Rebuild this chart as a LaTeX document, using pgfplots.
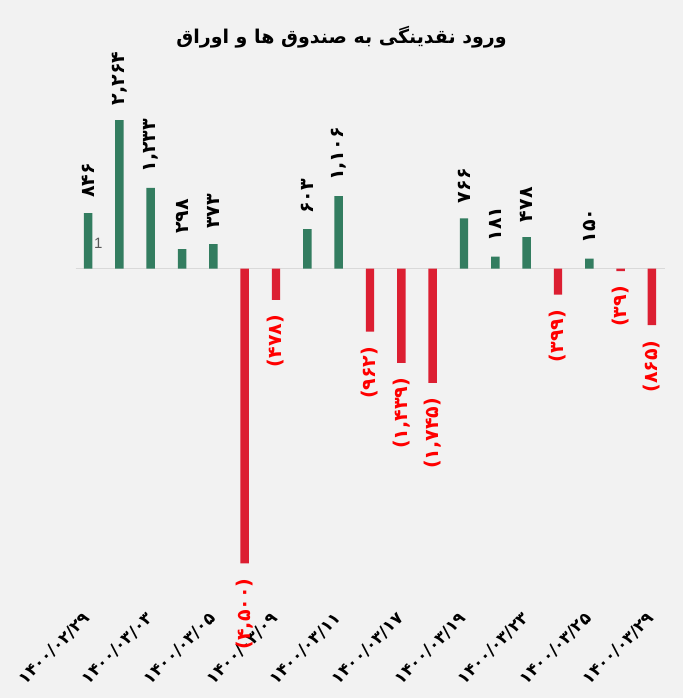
\documentclass[border=0pt]{standalone}
\usepackage{fontspec}
\usepackage{pgfplots}
\pgfplotsset{compat=1.18}
\usepackage{pgfplotstable}
\TeXXeTstate=1
\setmainfont{Liberation Sans}
\newfontfamily\arabicfont[Script=Arabic]{DejaVu Sans}
\definecolor{bg}{HTML}{F2F2F2}
\definecolor{posc}{HTML}{337D60}
\definecolor{negc}{HTML}{DC1F32}
\definecolor{zeroc}{HTML}{D9D9D9}

\pgfplotstableread{
x y label
1 846 ۸۴۶
2 2264 ۲,۲۶۴
3 1233 ۱,۲۳۳
4 298 ۲۹۸
5 373 ۳۷۳
8 603 ۶۰۳
9 1106 ۱,۱۰۶
13 766 ۷۶۶
14 181 ۱۸۱
15 478 ۴۷۸
17 150 ۱۵۰
}\postable

\pgfplotstableread{
x y label
6 -4500 (۴,۵۰۰)
7 -478 (۴۷۸)
10 -962 (۹۶۲)
11 -1439 (۱,۴۳۹)
12 -1745 (۱,۷۴۵)
16 -399 (۳۹۹)
18 -39 (۳۹)
19 -865 (۸۶۵)
}\negtable

\begin{document}
\begin{tikzpicture}
\fill[bg] (0,0) rectangle (683pt,698pt);
\node at (341.5pt,661pt) {\arabicfont\bfseries\fontsize{19}{19}\selectfont\beginR ورود نقدینگی به صندوق ها و اوراق\endR};
\begin{axis}[
  at={(75.5pt,93pt)}, anchor=south west,
  scale only axis, width=589pt, height=550pt,
  xmin=0.6, xmax=19.4, ymin=-5137, ymax=3260,
  axis line style={draw=none},
  tick style={draw=none},
  ybar, bar width=0.27, bar shift=0pt,
  xtick={1,3,5,7,9,11,13,15,17,19},
  xticklabels={۱۴۰۰/۰۲/۲۹,۱۴۰۰/۰۳/۰۳,۱۴۰۰/۰۳/۰۵,۱۴۰۰/۰۳/۰۹,۱۴۰۰/۰۳/۱۱,۱۴۰۰/۰۳/۱۷,۱۴۰۰/۰۳/۱۹,۱۴۰۰/۰۳/۲۳,۱۴۰۰/۰۳/۲۵,۱۴۰۰/۰۳/۲۹},
  xticklabel shift=10pt,
  xticklabel style={rotate=45, anchor=east, inner sep=1pt, font=\arabicfont\bfseries\fontsize{16.5}{16.5}\selectfont, text=black},
  ytick=\empty,
  major tick length=0pt,
  clip=false,
  point meta=explicit symbolic,
]
\draw[zeroc, line width=1.5pt] (axis cs:0.6,0) -- (axis cs:19.4,0);
\addplot[fill=posc, draw=none, nodes near coords,
  every node near coord/.append style={rotate=90, anchor=west, inner xsep=15pt, text=black, font=\arabicfont\bfseries\fontsize{19}{19}\selectfont}]
  table[x=x, y=y, meta=label] {\postable};
\addplot[fill=negc, draw=none, nodes near coords,
  every node near coord/.append style={rotate=90, anchor=east, inner xsep=15pt, text=red, font=\arabicfont\bfseries\fontsize{19}{19}\selectfont}]
  table[x=x, y=y, meta=label] {\negtable};
\node[text=black!65, font=\fontsize{15}{15}\selectfont] at (axis cs:1.33,390) {1};
\end{axis}
\end{tikzpicture}
\end{document}
